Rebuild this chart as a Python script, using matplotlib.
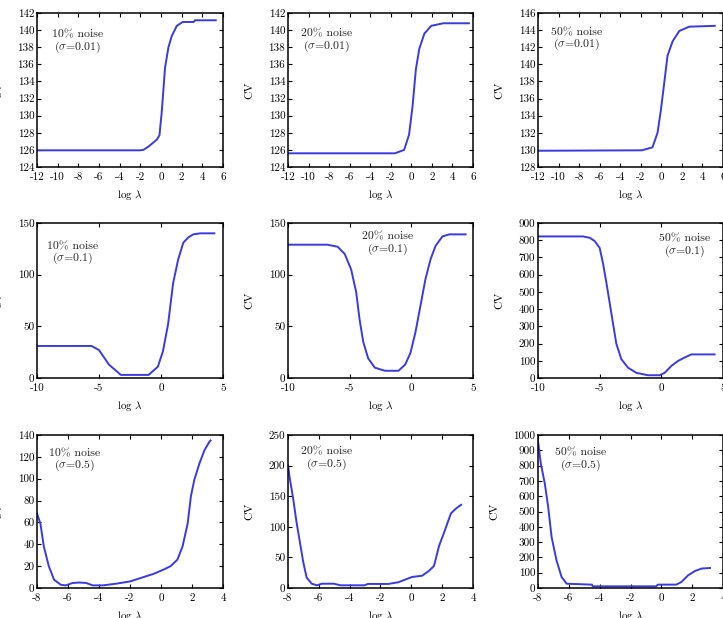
import numpy as np
import matplotlib
matplotlib.use('Agg')
import matplotlib.pyplot as plt

plt.rcParams['font.family'] = 'serif'
plt.rcParams['font.serif'] = ['cmr10', 'DejaVu Serif']
plt.rcParams['mathtext.fontset'] = 'cm'
plt.rcParams['axes.unicode_minus'] = False
plt.rcParams['axes.formatter.use_mathtext'] = False

# Row 1 (sigma = 0.01)
p1_x = [-12, -2, -1.7, -1.2, -0.4, -0.15, 0.07, 0.39, 0.72, 1.04, 1.53, 2.1, 3.15, 3.3, 5.3]
p1_y = [125.95, 125.95, 126.0, 126.4, 127.2, 127.7, 130.4, 135.6, 138.0, 139.3, 140.5, 140.95, 140.95, 141.15, 141.15]
p2_x = [-12, -1.6, -0.7, -0.22, 0.11, 0.44, 0.77, 1.27, 1.94, 3.1, 5.6]
p2_y = [125.6, 125.6, 126.0, 127.8, 131.0, 135.4, 137.8, 139.6, 140.5, 140.8, 140.8]
p3_x = [-12, -1.9, -0.86, -0.37, -0.05, 0.28, 0.6, 1.1, 1.75, 2.7, 5.2]
p3_y = [129.9, 129.95, 130.3, 132.0, 134.6, 137.8, 141.0, 142.7, 143.9, 144.4, 144.5]

# Row 2 (sigma = 0.1)
p4_x = [-10, -5.6, -5.0, -4.2, -3.24, -1.0, -0.25, 0.16, 0.57, 0.98, 1.39, 1.8, 2.2, 2.6, 3.16, 4.3]
p4_y = [31, 31, 27, 13, 3, 3, 11, 26, 52, 92, 115, 131, 136, 139, 140, 140]
p5_x = [-10, -6.8, -5.97, -5.4, -4.88, -4.47, -4.2, -3.9, -3.5, -2.96, -2.14, -1.04, -0.5,
        -0.08, 0.33, 0.74, 1.15, 1.56, 1.97, 2.52, 3.07, 4.4]
p5_y = [129, 129, 127, 120, 105, 83, 57, 35, 19, 10, 7, 7, 13, 24, 44, 70, 96, 115, 128, 137, 139, 139]
p6_x = [-10, -6.35, -5.8, -5.4, -5.0, -4.73, -4.46, -4.19, -3.92, -3.65, -3.24, -2.7, -2.03,
        -1.08, -0.14, 0.27, 0.81, 1.35, 1.89, 2.43, 4.32]
p6_y = [822, 822, 814, 795, 755, 666, 556, 437, 318, 199, 109, 60, 30, 16, 16, 30, 70, 99, 119, 137, 137]

# Row 3 (sigma = 0.5)
p7_x = [-8, -7.78, -7.56, -7.24, -6.9, -6.47, -6.14, -5.7, -5.27, -4.83, -4.4, -3.74, -2.87, -2.0,
        -1.12, -0.47, 0.19, 0.62, 1.06, 1.39, 1.72, 1.93, 2.15, 2.48, 2.8, 3.13, 3.2]
p7_y = [68, 59, 38, 20, 7.6, 3, 2.4, 4.6, 5, 4.6, 2.4, 2.4, 4, 6, 10, 13, 17, 20, 26, 38, 59, 84,
        99, 114, 126, 134, 135]
p8_x = [-8, -7.89, -7.67, -7.45, -7.23, -7.0, -6.79, -6.46, -6.13, -5.8, -5.03, -4.59, -3.04, -2.82,
        -1.5, -0.84, 0.04, 0.7, 1.14, 1.47, 1.8, 2.13, 2.57, 2.9, 3.23]
p8_y = [200, 180, 147, 108, 75, 41, 17, 7, 4.4, 7, 7, 4.4, 4.4, 6.6, 6.6, 9.4, 18, 20, 28, 36, 69,
        91, 122, 130, 136]
p9_x = [-8, -7.82, -7.56, -7.34, -7.12, -6.8, -6.47, -6.14, -4.5, -4.45, -0.34, -0.23, 0.97, 1.3,
        1.74, 2.18, 2.61, 3.16]
p9_y = [960, 815, 683, 530, 334, 181, 72, 28, 22, 11, 11, 22, 22, 39, 83, 111, 127, 131]

noise = ['10%', '20%', '50%']
sigmas = ['0.01', '0.1', '0.5']

xs = [p1_x, p2_x, p3_x, p4_x, p5_x, p6_x, p7_x, p8_x, p9_x]
ys = [p1_y, p2_y, p3_y, p4_y, p5_y, p6_y, p7_y, p8_y, p9_y]

# axis settings per panel
xlims = [(-12, 6)] * 3 + [(-10, 5)] * 3 + [(-8, 4)] * 3
xticks = [np.arange(-12, 7, 2)] * 3 + [np.arange(-10, 6, 5)] * 3 + [np.arange(-8, 5, 2)] * 3
ylims = [(124, 142), (124, 142), (128, 146), (0, 150), (0, 150), (0, 900), (0, 140), (0, 250), (0, 1000)]
ysteps = [2, 2, 2, 50, 50, 100, 20, 50, 100]
text_pos = [(0.22, 0.81), (0.21, 0.815), (0.21, 0.825), (0.19, 0.80), (0.54, 0.86), (0.79, 0.85),
            (0.20, 0.83), (0.21, 0.84), (0.23, 0.835)]

W, H = 723, 618
lefts = [37, 288, 538]
widths = [186, 185, 185]
tops = [13, 223, 435]
bottoms = [167, 378, 588]

fig = plt.figure(figsize=(W / 100, H / 100), dpi=100)

for i in range(9):
    r, c = i // 3, i % 3
    ax = fig.add_axes([lefts[c] / W, 1 - bottoms[r] / H, widths[c] / W, (bottoms[r] - tops[r]) / H])
    ax.plot(xs[i], ys[i], color='#3a3adf', lw=1.4)
    ax.set_xlim(xlims[i])
    ax.set_ylim(ylims[i])
    ax.set_xticks(xticks[i])
    ax.set_yticks(np.arange(ylims[i][0], ylims[i][1] + 0.01, ysteps[i]))
    ax.tick_params(direction='in', top=True, right=True, labelsize=8, length=3)
    ax.tick_params(axis='x', pad=4)
    ax.tick_params(axis='y', pad=2)
    for s in ax.spines.values():
        s.set_linewidth(1.1)
    ax.set_xlabel(r'log $\lambda$', fontsize=8, labelpad=4)
    ax.set_ylabel('CV', fontsize=8.5, labelpad=10)
    tx, ty = text_pos[i]
    ax.text(tx, ty, noise[c] + ' noise\n($\\sigma$=' + sigmas[r] + ')', transform=ax.transAxes,
            ha='center', va='center', fontsize=8.5, linespacing=1.0, color='#222222')

plt.savefig('out.png', dpi=100)
